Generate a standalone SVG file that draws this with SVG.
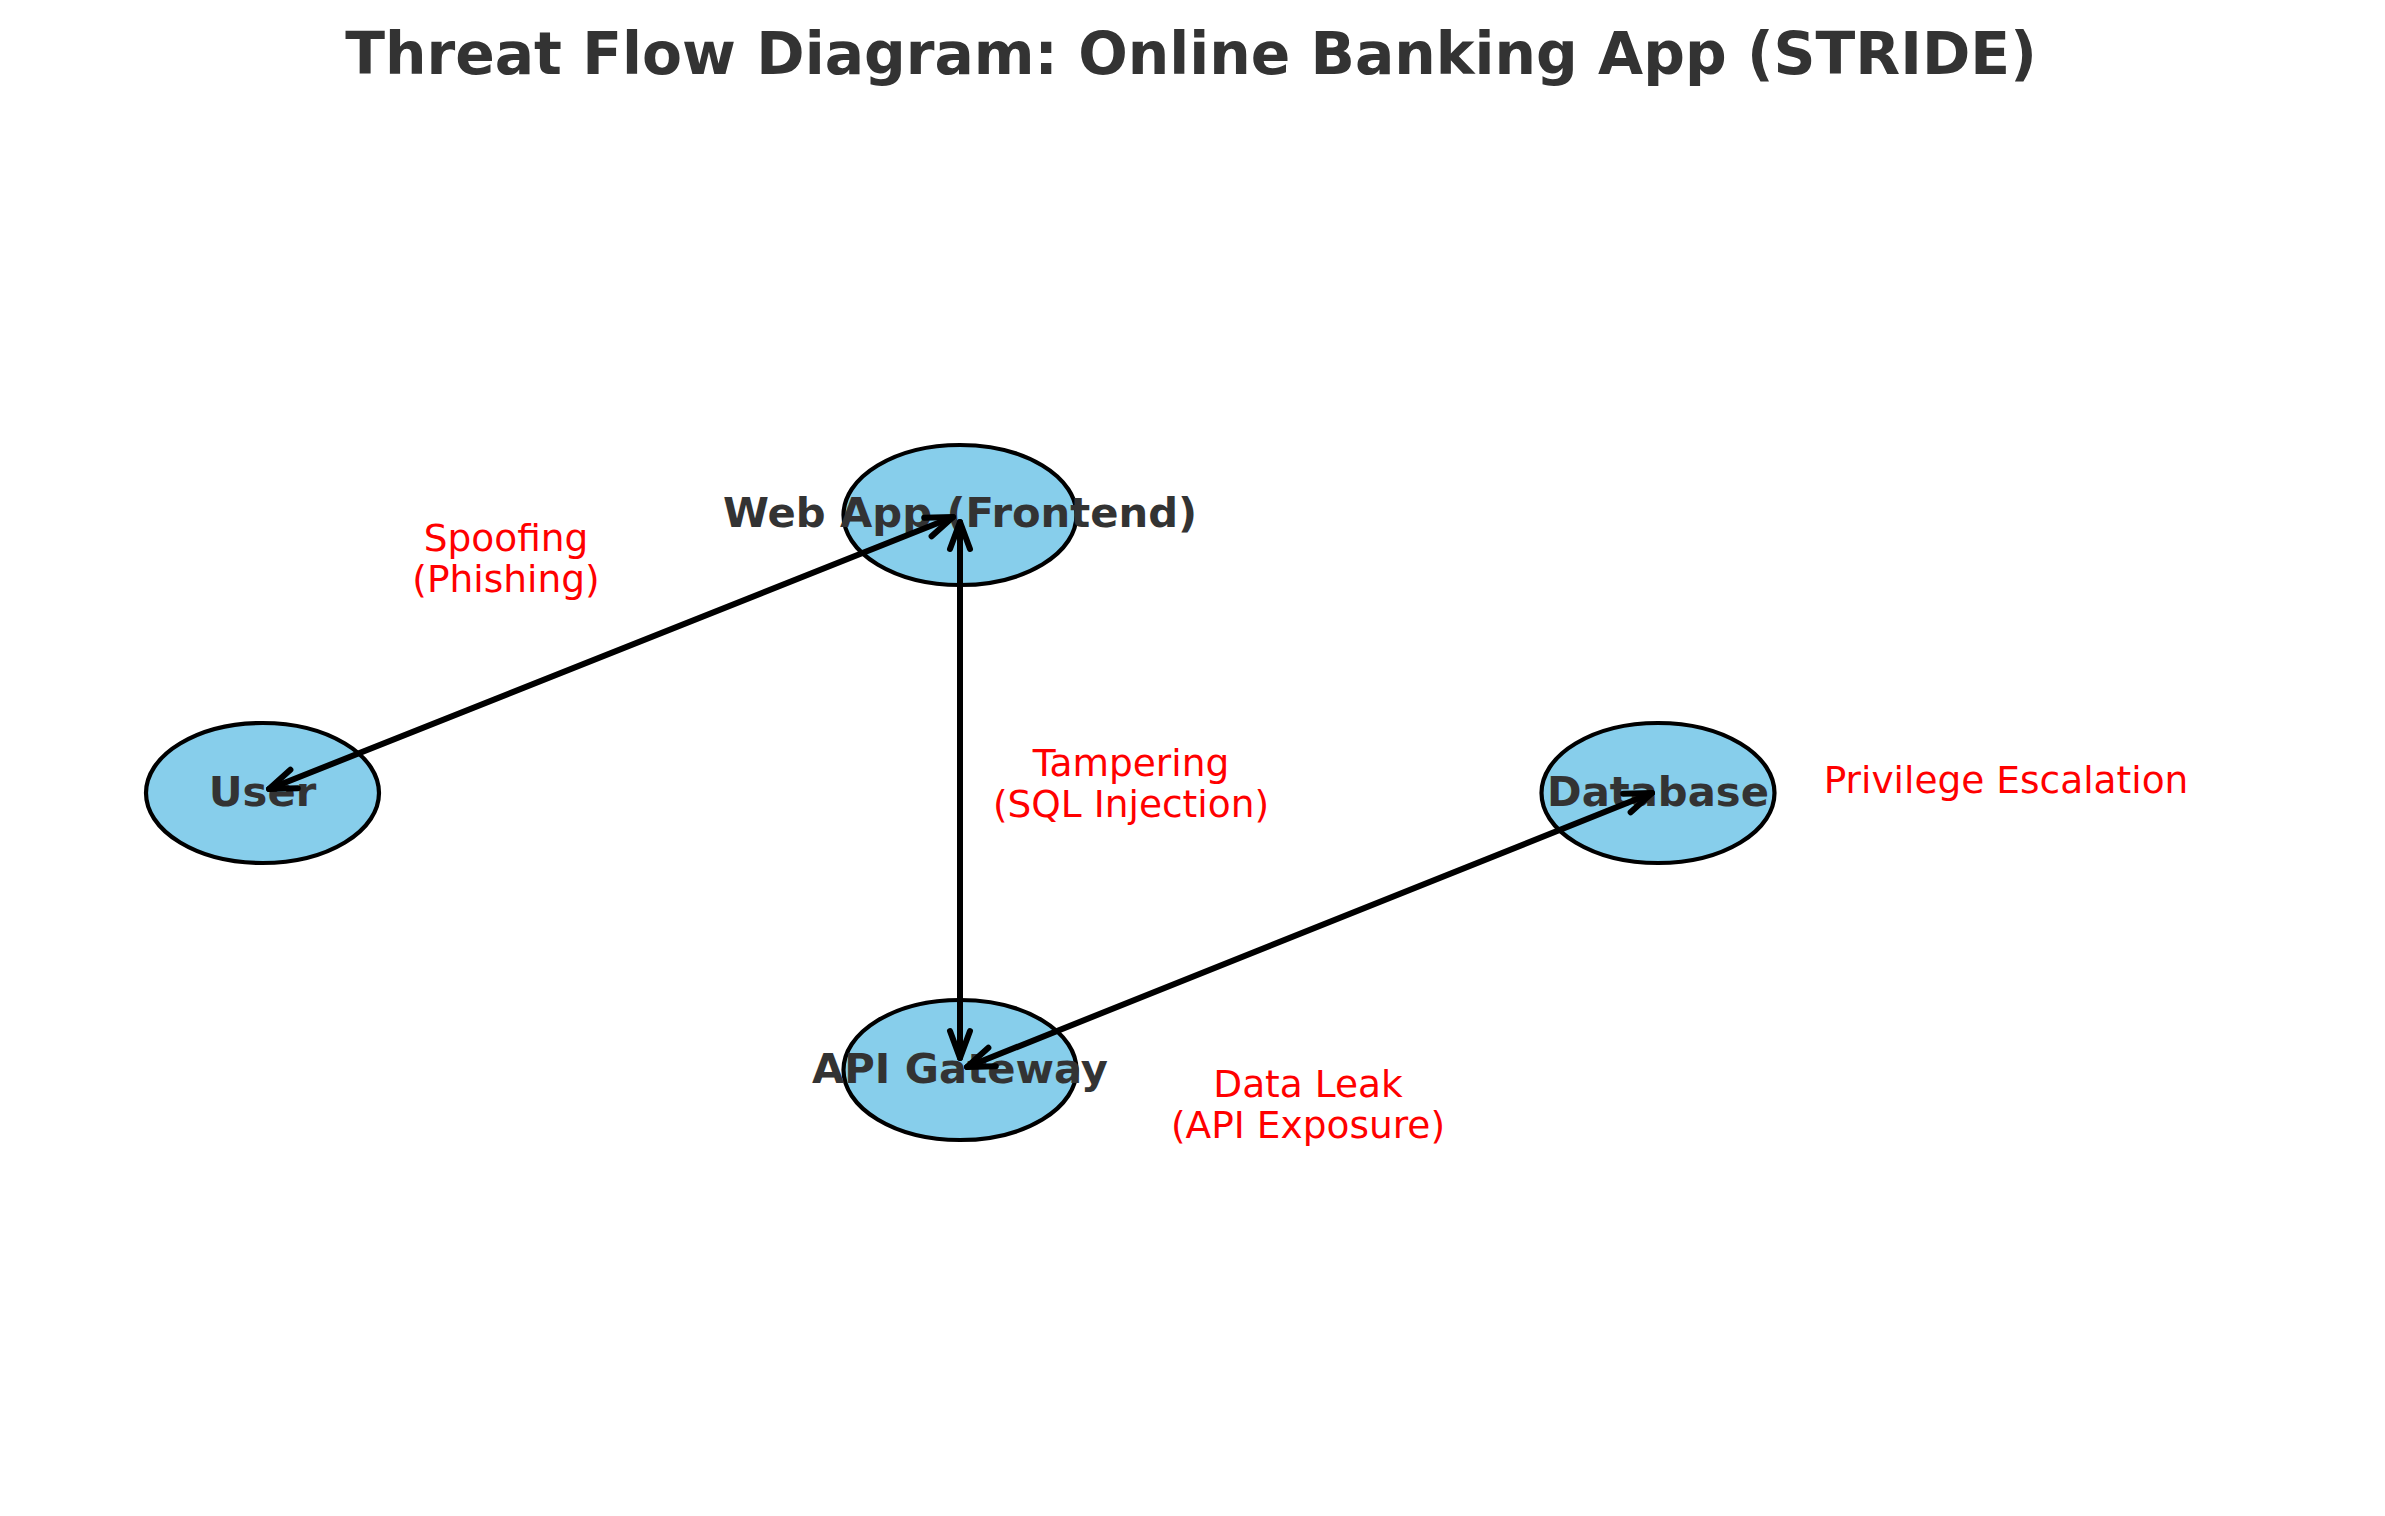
<svg xmlns="http://www.w3.org/2000/svg" width="2385" height="1516" viewBox="0 0 2385 1516">
<style>
.node ellipse{fill:#87CEEB;stroke:#000;stroke-width:4.2}
.nlabel{font-family:"DejaVu Sans",sans-serif;font-weight:bold;font-size:41.7px;fill:#333333;text-anchor:middle}
.elabel{font-family:"DejaVu Sans",sans-serif;font-size:37.5px;fill:#ff0000;text-anchor:middle}
.title{font-family:"DejaVu Sans",sans-serif;font-weight:bold;font-size:58.3px;fill:#333333;text-anchor:middle}
.conn{stroke:#000;stroke-width:6;fill:none;stroke-linecap:round;marker-start:url(#head);marker-end:url(#head)}
</style>
<defs>
<marker id="head" markerUnits="userSpaceOnUse" viewBox="-32 -14 36 28" refX="0" refY="0" markerWidth="36" markerHeight="28" orient="auto-start-reverse" overflow="visible">
<path d="M-27,-10 L0,0 L-27,10" fill="none" stroke="#000" stroke-width="6" stroke-linecap="round" stroke-linejoin="round"/>
</marker>
</defs>
<rect width="2385" height="1516" fill="#fff"/>
<text class="title" x="1191" y="74">Threat Flow Diagram: Online Banking App (STRIDE)</text>
<g id="node-webapp" class="node">
<ellipse cx="960" cy="515" rx="116.5" ry="70"/>
<text class="nlabel" x="960" y="527">Web App (Frontend)</text>
</g>
<g id="node-user" class="node">
<ellipse cx="262.5" cy="793" rx="116.5" ry="70"/>
<text class="nlabel" x="262.5" y="806">User</text>
</g>
<g id="node-database" class="node">
<ellipse cx="1658" cy="793" rx="116.5" ry="70"/>
<text class="nlabel" x="1658" y="806">Database</text>
</g>
<g id="node-api" class="node">
<ellipse cx="960" cy="1070" rx="116.5" ry="70"/>
<text class="nlabel" x="960" y="1083">API Gateway</text>
</g>
<g id="connectors">
<line class="conn" x1="269" y1="789" x2="953" y2="517"/>
<line class="conn" x1="960" y1="522" x2="960" y2="1058"/>
<line class="conn" x1="967" y1="1067" x2="1652" y2="793"/>
</g>
<g id="threat-labels">
<text class="elabel" x="506" y="551">Spoofing</text>
<text class="elabel" x="506" y="592">(Phishing)</text>
<text class="elabel" x="1131" y="776">Tampering</text>
<text class="elabel" x="1131" y="817">(SQL Injection)</text>
<text class="elabel" x="1308" y="1097">Data Leak</text>
<text class="elabel" x="1308" y="1138">(API Exposure)</text>
<text class="elabel" x="2006" y="793">Privilege Escalation</text>
</g>
</svg>
